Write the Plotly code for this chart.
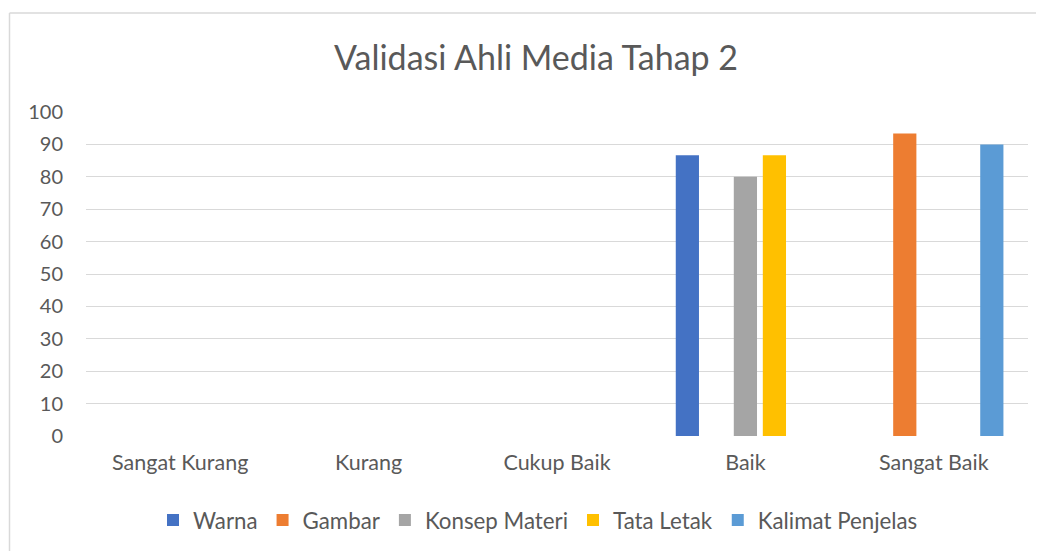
import plotly.graph_objects as go

categories = ["Sangat Kurang", "Kurang", "Cukup Baik", "Baik", "Sangat Baik"]
series_names = ["Warna", "Gambar", "Konsep Materi", "Tata Letak", "Kalimat Penjelas"]
warna = [None, None, None, 86.67, None]
gambar = [None, None, None, None, 93.33]
konsep_materi = [None, None, None, 80, None]
tata_letak = [None, None, None, 86.67, None]
kalimat_penjelas = [None, None, None, None, 90]
colors = ["#4472C4", "#ED7D31", "#A5A5A5", "#FFC000", "#5B9BD5"]
y_ticks = [0, 10, 20, 30, 40, 50, 60, 70, 80, 90, 100]

values = [warna, gambar, konsep_materi, tata_letak, kalimat_penjelas]

# the page body has an 8px margin, so the figure is drawn 8px smaller and shifted
OFF = 8
W, H = 1044 - OFF, 551 - OFF
L, R, T, B = 86 - OFF, 1028 - OFF, 112 - OFF, 436 - OFF  # plot area in pixels

fig = go.Figure()
for name, vals, col in zip(series_names, values, colors):
    fig.add_trace(go.Bar(name=name, x=categories, y=vals, marker=dict(color=col, line=dict(width=0))))

font_family = "Lato, Open Sans, sans-serif"
txt = "#595959"

def px_x(px):
    return (px - OFF - L) / (R - L)

def px_y(py):
    return (B - (py - OFF)) / (B - T)

fig.update_layout(
    width=W, height=H,
    margin=dict(l=L, r=W - R, t=T, b=H - B, pad=0),
    barmode="group",
    bargap=0.23,
    bargroupgap=0.2,
    paper_bgcolor="white",
    plot_bgcolor="white",
    font=dict(family=font_family, color=txt, size=21),
    title=dict(text="Validasi Ahli Media Tahap 2", xref="paper", x=px_x(536), xanchor="center",
               y=1 - (58 - OFF) / H, yanchor="middle",
               font=dict(size=34, color=txt, family=font_family)),
    showlegend=True,
    legend=dict(orientation="h", x=(538 - OFF) / W, xanchor="center", xref="container",
                y=1 - (520 - OFF) / H, yref="container", yanchor="middle",
                font=dict(size=22.3, color=txt), traceorder="normal",
                itemwidth=30, tracegroupgap=0),
    xaxis=dict(type="category", categoryorder="array", categoryarray=categories,
               showgrid=False, zeroline=False, showline=False, ticks="",
               tickfont=dict(size=21.5, color=txt), ticklabelstandoff=11),
    yaxis=dict(range=[0, 100], tickvals=y_ticks, showgrid=True, gridcolor="#D9D9D9",
               gridwidth=1, zeroline=False, showline=False, ticks="",
               tickfont=dict(size=20, color=txt), ticklabelstandoff=22),
    shapes=[
        dict(type="line", xref="paper", yref="paper", x0=px_x(9.5), x1=px_x(1044), y0=px_y(13), y1=px_y(13),
             line=dict(color="#D9D9D9", width=1.5)),
        dict(type="line", xref="paper", yref="paper", x0=px_x(9.5), x1=px_x(9.5), y0=px_y(13), y1=px_y(551),
             line=dict(color="#D9D9D9", width=1.5)),
    ],
)

fig.write_html("out.html")
